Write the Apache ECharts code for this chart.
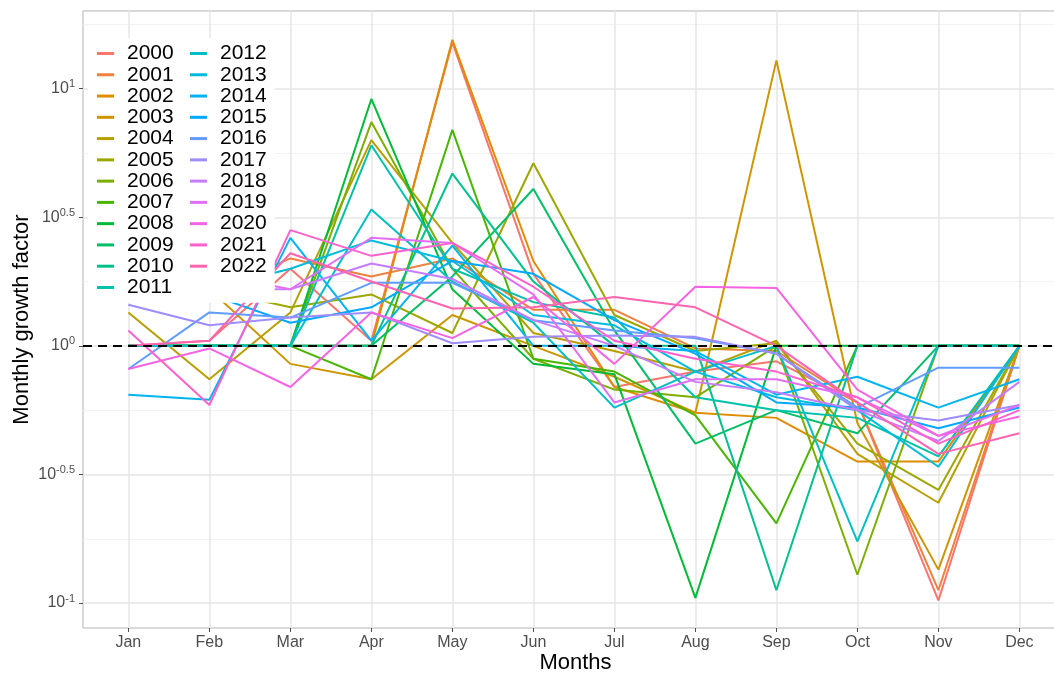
<!DOCTYPE html>
<html>
<head>
<meta charset="utf-8">
<script src="https://cdn.jsdelivr.net/npm/echarts@6/dist/echarts.min.js"></script>
<style>
html, body { margin: 0; padding: 0; background: #fff; }
#chart { width: 1054px; height: 675px; }
</style>
</head>
<body>
<div id="chart"></div>
<script>
// categories and ticks
var months = ['Jan', 'Feb', 'Mar', 'Apr', 'May', 'Jun', 'Jul', 'Aug', 'Sep', 'Oct', 'Nov', 'Dec'];
var years = ['2000', '2001', '2002', '2003', '2004', '2005', '2006', '2007', '2008', '2009', '2010', '2011',
	'2012', '2013', '2014', '2015', '2016', '2017', '2018', '2019', '2020', '2021', '2022'];
var yTicks = [-1, -0.5, 0, 0.5, 1];
var yMinorTicks = [-0.75, -0.25, 0.25, 0.75, 1.25];

// monthly growth factor, as the exponent (factor = 10^value)
var g2000 = [0.00, 0.02, 0.30, 0.02, 1.18, 0.28, -0.16, -0.10, -0.06, -0.22, -0.99, 0.00];
var g2001 = [0.22, 0.20, 0.34, 0.27, 0.34, 0.14, 0.14, -0.01, -0.02, -0.22, -0.95, 0.00];
var g2002 = [0.00, 0.00, 0.00, 0.00, 1.19, 0.33, -0.16, -0.26, -0.28, -0.45, -0.45, 0.00];
var g2003 = [0.20, 0.22, -0.07, -0.13, 0.12, 0.00, -0.12, -0.26, 1.11, -0.30, -0.87, 0.00];
var g2004 = [0.13, -0.13, 0.13, 0.80, 0.40, 0.05, -0.02, -0.10, 0.02, -0.42, -0.61, 0.00];
var g2005 = [0.20, 0.22, 0.15, 0.20, 0.05, 0.71, 0.12, -0.02, 0.01, -0.38, -0.56, 0.00];
var g2006 = [0.00, 0.00, 0.00, 0.87, 0.30, -0.05, -0.17, -0.20, 0.00, -0.89, 0.00, 0.00];
var g2007 = [0.00, 0.00, 0.00, -0.13, 0.84, -0.05, -0.10, -0.27, -0.69, 0.00, 0.00, 0.00];
var g2008 = [0.00, 0.00, 0.00, 0.96, 0.22, -0.07, -0.11, -0.98, 0.00, 0.00, 0.00, 0.00];
var g2009 = [0.00, 0.00, 0.00, 0.00, 0.27, 0.61, 0.06, -0.38, -0.25, -0.34, 0.00, 0.00];
var g2010 = [0.00, 0.00, 0.00, 0.00, 0.67, 0.25, 0.00, 0.00, -0.95, 0.00, 0.00, 0.00];
var g2011 = [0.00, 0.00, 0.00, 0.78, 0.30, 0.17, 0.11, -0.20, -0.25, -0.28, -0.43, 0.00];
var g2012 = [0.00, 0.00, 0.00, 0.53, 0.25, 0.09, -0.24, -0.10, 0.00, -0.76, 0.00, 0.00];
var g2013 = [0.24, 0.22, 0.30, 0.41, 0.33, 0.12, 0.08, -0.10, -0.20, -0.25, -0.47, 0.00];
var g2014 = [-0.19, -0.21, 0.42, 0.02, 0.39, 0.00, 0.00, -0.02, -0.19, -0.12, -0.24, -0.13];
var g2015 = [0.20, 0.20, 0.09, 0.15, 0.33, 0.28, 0.10, -0.03, -0.22, -0.24, -0.32, -0.24];
var g2016 = [-0.09, 0.13, 0.11, 0.245, 0.245, 0.10, 0.06, 0.03, -0.03, -0.24, -0.085, -0.085];
var g2017 = [0.16, 0.08, 0.11, 0.13, 0.01, 0.035, 0.04, 0.035, -0.03, -0.25, -0.29, -0.23];
var g2018 = [0.25, 0.22, 0.22, 0.32, 0.26, 0.10, 0.00, -0.14, -0.18, -0.25, -0.37, -0.14];
var g2019 = [0.28, 0.28, 0.22, 0.42, 0.40, 0.20, -0.22, -0.13, -0.13, -0.20, -0.35, -0.23];
var g2020 = [-0.09, -0.01, -0.16, 0.13, 0.03, 0.19, -0.07, 0.23, 0.225, -0.17, -0.35, -0.275];
var g2021 = [0.06, -0.23, 0.45, 0.35, 0.40, 0.23, 0.02, -0.05, -0.10, -0.20, -0.38, -0.25];
var g2022 = [0.00, 0.02, 0.36, 0.25, 0.145, 0.15, 0.19, 0.15, 0.00, -0.22, -0.42, -0.34];

var growth = [g2000, g2001, g2002, g2003, g2004, g2005, g2006, g2007, g2008, g2009, g2010, g2011,
	g2012, g2013, g2014, g2015, g2016, g2017, g2018, g2019, g2020, g2021, g2022];

// ggplot-like hue palette (polar Luv, l=65, c=100)
function hcl(h, c, l) {
	var rad = h * Math.PI / 180;
	var u = c * Math.cos(rad), v = c * Math.sin(rad);
	var Xn = 95.047, Yn = 100, Zn = 108.883;
	var Y = Yn * (l > 7.999592 ? Math.pow((l + 16) / 116, 3) : l / 903.3);
	var t = Xn + 15 * Yn + 3 * Zn;
	var un = 4 * Xn / t, vn = 9 * Yn / t;
	var up = u / (13 * l) + un, vp = v / (13 * l) + vn;
	var X = 9 * Y * up / (4 * vp);
	var Z = -X / 3 - 5 * Y + 3 * Y / vp;
	X /= 100; Y /= 100; Z /= 100;
	var rgb = [
		3.240479 * X - 1.537150 * Y - 0.498535 * Z,
		-0.969256 * X + 1.875992 * Y + 0.041556 * Z,
		0.055648 * X - 0.204043 * Y + 1.057311 * Z
	];
	return '#' + rgb.map(function(x) {
		x = x > 0.00304 ? 1.055 * Math.pow(x, 1 / 2.4) - 0.055 : 12.92 * x;
		x = Math.round(Math.max(0, Math.min(1, x)) * 255);
		return (x < 16 ? '0' : '') + x.toString(16);
	}).join('');
}
var colors = years.map(function(y, i) {
	return hcl(15 + 360 / 24 * i, 100, 65);
});

var font = "'Liberation Sans', Arial, sans-serif";
var dom = document.getElementById('chart');
var myChart = echarts.init(dom, null, { renderer: 'canvas' });

var series = years.map(function(y, i) {
	return {
		name: y,
		type: 'line',
		data: growth[i].map(function(v, m) { return [m, v]; }),
		showSymbol: false,
		symbol: 'none',
		color: colors[i],
		lineStyle: { width: 2, color: colors[i] },
		emphasis: { disabled: true },
		silent: true,
		z: 2
	};
});
// dashed reference line at factor 1
series.push({
	type: 'line',
	data: [],
	silent: true,
	z: 10,
	markLine: {
		silent: true,
		symbol: 'none',
		label: { show: false },
		lineStyle: { color: '#000', width: 2, type: [9, 6] },
		data: [{ yAxis: 0 }],
		animation: false
	}
});

var legendBase = {
	orient: 'vertical',
	icon: 'rect',
	itemWidth: 17,
	itemHeight: 3,
	itemGap: 0.27,
	backgroundColor: '#fff',
	selectedMode: false,
	textStyle: { fontFamily: font, fontSize: 21, lineHeight: 21, color: '#000', padding: [0, 0, 0, 8] }
};

var monthIdx = months.map(function(m, i) { return i; });

var option = {
	animation: false,
	backgroundColor: '#fff',
	grid: {
		left: 83, right: -14, top: 11, bottom: 47,
		show: true, borderColor: '#B3B3B3', borderWidth: 1,
		outerBoundsMode: 'none'
	},
	legend: [
		echarts.util.merge({ left: 88, top: 38, padding: [5, 8, 5, 9], data: years.slice(0, 12) }, legendBase),
		echarts.util.merge({ left: 181, top: 38, padding: [5, 8, 26, 9], data: years.slice(12) }, legendBase)
	],
	xAxis: {
		type: 'value',
		min: -0.56,
		max: 11.6,
		name: 'Months',
		nameLocation: 'middle',
		nameGap: 24,
		nameMoveOverlap: false,
		nameTextStyle: { fontFamily: font, fontSize: 22, color: '#000' },
		axisLine: { show: false, onZero: false },
		axisTick: { show: true, length: 4, lineStyle: { color: '#4D4D4D' }, customValues: monthIdx },
		axisLabel: {
			customValues: monthIdx,
			formatter: function(v) { return months[Math.round(v)]; },
			fontFamily: font, fontSize: 16, color: '#4D4D4D', margin: 7
		},
		splitLine: { show: true, lineStyle: { color: '#E6E6E6', width: 1.5 } }
	},
	yAxis: [{
		type: 'value',
		min: -1.097,
		max: 1.302,
		name: 'Monthly growth factor',
		nameLocation: 'middle',
		nameGap: 50,
		nameMoveOverlap: false,
		nameTextStyle: { fontFamily: font, fontSize: 22, color: '#000' },
		axisLine: { show: false, onZero: false },
		axisTick: { show: true, length: 4, lineStyle: { color: '#4D4D4D' }, customValues: yTicks },
		axisLabel: {
			customValues: yTicks,
			margin: 8,
			formatter: function(v) { return '{b|10}{s|' + String(v) + '}'; },
			rich: {
				b: { fontFamily: font, fontSize: 16, color: '#4D4D4D' },
				s: { fontFamily: font, fontSize: 11, color: '#4D4D4D', padding: [0, 0, 9, 0] }
			}
		},
		splitLine: { show: true, lineStyle: { color: '#E6E6E6', width: 1.5 } }
	}, {
		type: 'value',
		min: -1.097,
		max: 1.302,
		position: 'left',
		axisLine: { show: false, onZero: false },
		axisTick: { show: false, customValues: yMinorTicks },
		axisLabel: { show: false, customValues: yMinorTicks },
		splitLine: { show: true, lineStyle: { color: '#F2F2F2', width: 1 } }
	}],
	series: series
};

if (option && typeof option === 'object') {
	myChart.setOption(option, true);
}
</script>
</body>
</html>
